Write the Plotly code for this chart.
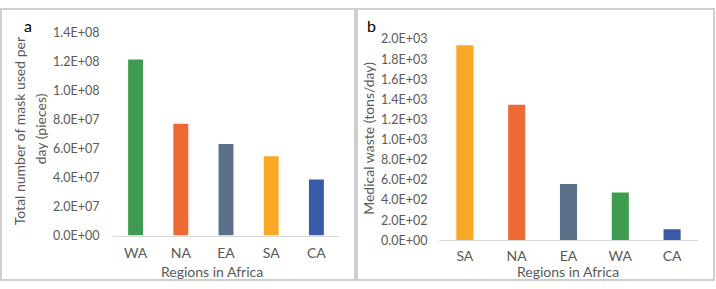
import plotly.graph_objects as go

W, H = 716, 289

# Panel a data
cats_a = ["WA", "NA", "EA", "SA", "CA"]
vals_a = [1.215e8, 7.72e7, 6.32e7, 5.47e7, 3.86e7]
cols_a = ["#3e9b4f", "#ee6a34", "#5a7089", "#f9a826", "#3a5ca8"]
ticks_a = [0, 2e7, 4e7, 6e7, 8e7, 1e8, 1.2e8, 1.4e8]
ticklab_a = ["0.0E+00", "2.0E+07", "4.0E+07", "6.0E+07", "8.0E+07", "1.0E+08", "1.2E+08", "1.4E+08"]

# Panel b data
cats_b = ["SA", "NA", "EA", "WA", "CA"]
vals_b = [1938, 1347, 559, 474, 110]
cols_b = ["#f9a826", "#ee6a34", "#5a7089", "#3e9b4f", "#3a5ca8"]
ticks_b = [0, 200, 400, 600, 800, 1000, 1200, 1400, 1600, 1800, 2000]
ticklab_b = ["0.0E+00", "2.0E+02", "4.0E+02", "6.0E+02", "8.0E+02", "1.0E+03",
             "1.2E+03", "1.4E+03", "1.6E+03", "1.8E+03", "2.0E+03"]

FONT = "Lato"
GRAY = "#595959"

fig = go.Figure()
fig.add_trace(go.Bar(x=cats_a, y=vals_a, marker=dict(color=cols_a, line=dict(width=0)),
                     xaxis="x", yaxis="y", showlegend=False))
fig.add_trace(go.Bar(x=cats_b, y=vals_b, marker=dict(color=cols_b, line=dict(width=0)),
                     xaxis="x2", yaxis="y2", showlegend=False))

def px(x):
    return x / W

def py(y):
    return 1 - y / H

tickfont = dict(family=FONT, size=12.5, color=GRAY)
xtickfont = dict(family=FONT, size=14, color=GRAY)
CLEAR = "rgba(0,0,0,0)"

fig.update_layout(
    width=W, height=H,
    margin=dict(l=0, r=0, t=0, b=0),
    paper_bgcolor="white", plot_bgcolor="white",
    bargap=0.67,
    xaxis=dict(domain=[px(113), px(339)], anchor="y", showline=True, linecolor="#d9d9d9",
               linewidth=1, ticks="", tickfont=xtickfont, showgrid=False, ticklabelstandoff=5),
    yaxis=dict(domain=[py(240), py(26)], anchor="x", range=[0, 1.4e8], tickvals=ticks_a,
               ticktext=ticklab_a, showgrid=False, zeroline=False, tickfont=tickfont,
               ticks="outside", ticklen=10, tickcolor=CLEAR),
    xaxis2=dict(domain=[px(439), px(698)], anchor="y2", showline=True, linecolor="#d9d9d9",
                linewidth=1, ticks="", tickfont=xtickfont, showgrid=False, ticklabelstandoff=3),
    yaxis2=dict(domain=[py(245), py(32.7)], anchor="x2", range=[0, 2000], tickvals=ticks_b,
                ticktext=ticklab_b, showgrid=False, zeroline=False, tickfont=tickfont,
                ticks="outside", ticklen=8, tickcolor=CLEAR),
    shapes=[
        dict(type="rect", xref="paper", yref="paper", x0=px(1), x1=px(355), y0=py(287), y1=py(1),
             line=dict(color="#cfcfcf", width=2)),
        dict(type="rect", xref="paper", yref="paper", x0=px(357), x1=px(714), y0=py(287), y1=py(1),
             line=dict(color="#cfcfcf", width=2)),
    ],
)

titlefont = dict(family=FONT, size=14, color=GRAY)
ann = [
    dict(text="a", x=px(28), y=py(18), font=dict(family=FONT, size=16, color="black")),
    dict(text="b", x=px(372), y=py(18), font=dict(family=FONT, size=16, color="black")),
    dict(text="Total number of mask used per", x=px(19), y=py(130),
         textangle=-90, font=titlefont),
    dict(text="day (pieces)", x=px(40), y=py(128), textangle=-90, font=titlefont),
    dict(text="Medical waste (tons/day)", x=px(369), y=py(138), textangle=-90, font=titlefont),
    dict(text="Regions in Africa", x=px(212), y=py(278), font=titlefont),
    dict(text="Regions in Africa", x=px(568), y=py(278), font=titlefont),
]
for a in ann:
    a.update(xref="paper", yref="paper", showarrow=False, xanchor="center", yanchor="middle")
fig.update_layout(annotations=ann)

fig.write_html("out.html", config={"displayModeBar": False},
               post_script="document.body.style.margin='0';document.body.style.overflow='hidden';")
